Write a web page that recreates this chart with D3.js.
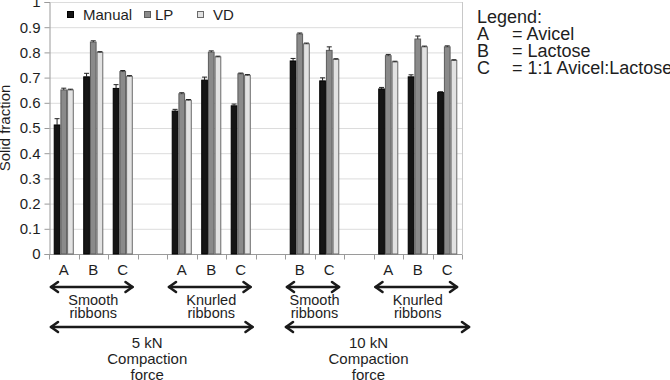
<!DOCTYPE html>
<html><head><meta charset="utf-8">
<script src="https://cdn.jsdelivr.net/npm/d3@7/dist/d3.min.js"></script>
<style>
html,body{margin:0;padding:0;background:#fff;overflow:hidden}
svg{display:block;font-family:"Liberation Sans",Arial,sans-serif}
</style></head>
<body>
<svg id="chart" width="670" height="380"></svg>
<script>
// ---------- data ----------
const categories = ["A","B","C","","A","B","C","","B","C","","A","B","C"];
const seriesNames = ["Manual","LP","VD"];
const manual    = [0.512,0.703,0.657,null,0.567,0.690,0.588,null,0.766,0.687,null,0.655,0.703,0.641];
const lp        = [0.651,0.841,0.724,null,0.636,0.801,0.715,null,0.873,0.808,null,0.787,0.853,0.822];
const vd        = [0.651,0.800,0.705,null,0.610,0.782,0.709,null,0.834,0.772,null,0.762,0.822,0.768];
const manualErr = [0.025,0.014,0.015,null,0.007,0.012,0.007,null,0.010,0.012,null,0.006,0.008,0.003];
const lpErr     = [0.007,0.005,0.004,null,0.004,0.005,0.003,null,0.004,0.014,null,0.005,0.012,0.004];
const vdErr     = [0.003,0.003,0.003,null,0.003,0.003,0.003,null,0.003,0.003,null,0.003,0.003,0.003];
const yTicks = [0,0.1,0.2,0.3,0.4,0.5,0.6,0.7,0.8,0.9,1];
const yTickLabels = ["0","0.1","0.2","0.3","0.4","0.5","0.6","0.7","0.8","0.9","1"];
const yTitle = "Solid fraction";
const ribbonGroups = [
  {lines:["Smooth","ribbons"], first:0, last:2},
  {lines:["Knurled","ribbons"], first:4, last:6},
  {lines:["Smooth","ribbons"], first:8, last:9},
  {lines:["Knurled","ribbons"], first:11, last:13}
];
const forceGroups = [
  {lines:["5 kN","Compaction","force"], first:0, last:6},
  {lines:["10 kN","Compaction","force"], first:8, last:13}
];
const legendTitle = "Legend:";
const legendKeys = ["A","B","C"];
const legendValues = ["= Avicel","= Lactose","= 1:1 Avicel:Lactose"];

// ---------- layout ----------
const svg = d3.select("#chart");
const L = 49, R = 462, T = 2, B = 254;
const fills   = ["#151515","#8a8a8a","#e2e2e2"];
const strokes = ["#000000","#5c5c5c","#6a6a6a"];
const values = [manual, lp, vd];
const errs = [manualErr, lpErr, vdErr];
const txt = "#1e1e1e";

const x0 = d3.scaleBand().domain(d3.range(categories.length)).range([L, R]).padding(0);
const bw = x0.bandwidth();
const x1 = d3.scaleBand().domain(seriesNames).range([bw*0.16, bw*0.84]).padding(0);
const y = d3.scaleLinear().domain([0,1]).range([B, T]);

// gridlines
svg.append("g").selectAll("line").data(yTicks.slice(1)).join("line")
  .attr("x1", L).attr("x2", R).attr("y1", d=>y(d)+0.5).attr("y2", d=>y(d)+0.5)
  .attr("stroke", "#dcdcdc").attr("stroke-width", 1);
// right border
svg.append("line").attr("x1", R+0.5).attr("x2", R+0.5).attr("y1", y(1)).attr("y2", B)
  .attr("stroke", "#c8c8c8");

// y axis
const yAxis = d3.axisLeft(y).tickValues(yTicks).tickFormat((d,i)=>yTickLabels[i]).tickSize(5).tickPadding(4);
const gy = svg.append("g").attr("transform", `translate(${L+0.5},0)`).call(yAxis);
gy.select(".domain").attr("stroke", "#9a9a9a");
gy.selectAll(".tick line").attr("stroke", "#9a9a9a");
gy.selectAll(".tick text").attr("fill", txt).style("font-size", "15px")
  .style("font-family", "'Liberation Sans',Arial,sans-serif");

// x axis (ticks at band boundaries)
const gx = svg.append("g").attr("transform", `translate(0,${B+0.5})`);
gx.append("line").attr("x1", L).attr("x2", R).attr("stroke", "#9a9a9a");
const bounds = d3.range(categories.length+1).map(i => L + i*bw);
gx.selectAll("line.tk").data(bounds).join("line").attr("class","tk")
  .attr("x1", d=>Math.round(d)+0.5).attr("x2", d=>Math.round(d)+0.5).attr("y1", 0).attr("y2", 5)
  .attr("stroke", "#9a9a9a");
gx.selectAll("text").data(categories).join("text")
  .attr("x", (d,i)=>x0(i)+bw/2).attr("y", 20.5)
  .attr("text-anchor", "middle").attr("fill", txt).style("font-size", "15px").text(d=>d);

// bars
const gBars = svg.append("g");
seriesNames.forEach((s, si) => {
  const data = categories.map((c,i)=>({i, v: values[si][i], e: errs[si][i]})).filter(d=>d.v!=null);
  gBars.append("g").selectAll("rect").data(data).join("rect")
    .attr("x", d=>x0(d.i)+x1(s)+0.5).attr("width", x1.bandwidth()-1)
    .attr("y", d=>y(d.v)).attr("height", d=>B - y(d.v))
    .attr("fill", fills[si]).attr("stroke", strokes[si]).attr("stroke-width", 1);
  // error bars
  const ge = gBars.append("g").attr("stroke", "#222").attr("stroke-width", 1);
  data.forEach(d => {
    const cx = x0(d.i)+x1(s)+x1.bandwidth()/2;
    ge.append("line").attr("x1", cx).attr("x2", cx).attr("y1", y(d.v+d.e)).attr("y2", y(d.v));
    ge.append("line").attr("x1", cx-2.5).attr("x2", cx+2.5).attr("y1", y(d.v+d.e)).attr("y2", y(d.v+d.e));
  });
});

// inner legend
const legMarkX = [67, 144, 197], legTextX = [83, 155, 213];
seriesNames.forEach((s, si) => {
  svg.append("rect").attr("x", legMarkX[si]+0.5).attr("y", 11.5).attr("width", 6).attr("height", 6)
    .attr("fill", fills[si]).attr("stroke", strokes[si]);
  svg.append("text").attr("x", legTextX[si]).attr("y", 19.5).attr("fill", txt)
    .style("font-size", "15px").text(s);
});

// y title
svg.append("text").attr("transform", `translate(10,${(T+B)/2}) rotate(-90)`)
  .attr("text-anchor", "middle").attr("fill", txt).style("font-size", "15px").text(yTitle);

// right legend
svg.append("text").attr("x", 477).attr("y", 23).attr("fill", txt).style("font-size", "18px").text(legendTitle);
legendKeys.forEach((k,i) => {
  svg.append("text").attr("x", 477).attr("y", 40 + i*17).attr("fill", txt).style("font-size", "18px").text(k);
  svg.append("text").attr("x", 512).attr("y", 40 + i*17).attr("fill", txt).style("font-size", "18px").text(legendValues[i]);
});

// double arrows
function dblArrow(xa, xb, yy) {
  const g = svg.append("g").attr("stroke", "#1a1a1a").attr("stroke-width", 2.6).attr("fill", "none")
    .attr("stroke-linecap", "round").attr("stroke-linejoin", "round");
  g.append("line").attr("x1", xa+1).attr("x2", xb-1).attr("y1", yy).attr("y2", yy);
  g.append("path").attr("d", `M${xa+8},${yy-5} L${xa+1},${yy} L${xa+8},${yy+5}`);
  g.append("path").attr("d", `M${xb-8},${yy-5} L${xb-1},${yy} L${xb-8},${yy+5}`);
}
ribbonGroups.forEach(g => {
  const xa = x0(g.first)+1, xb = x0(g.last)+bw-4;
  dblArrow(xa, xb, 287);
  const cx = (x0(g.first) + x0(g.last)+bw)/2;
  g.lines.forEach((t,j) => svg.append("text").attr("x", cx).attr("y", 305 + j*13)
    .attr("text-anchor","middle").attr("fill", txt).style("font-size","14.5px").text(t));
});
const forceEnds = [[1, -2], [0, 8]];
forceGroups.forEach((g, gi) => {
  const xa = x0(g.first)+forceEnds[gi][0], xb = x0(g.last)+bw+forceEnds[gi][1];
  dblArrow(xa, xb, 327);
  const cx = (x0(g.first) + x0(g.last)+bw)/2 - 5;
  g.lines.forEach((t,j) => svg.append("text").attr("x", cx).attr("y", 348 + j*16)
    .attr("text-anchor","middle").attr("fill", txt).style("font-size","15px").text(t));
});
</script>
</body></html>
